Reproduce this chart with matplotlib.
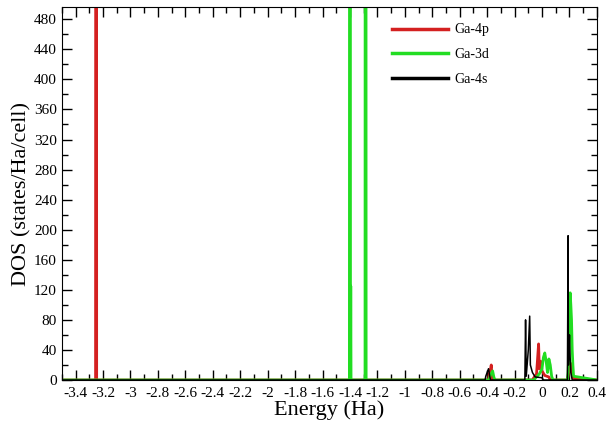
# DOS plot for Ga states
import matplotlib.pyplot as plt
from matplotlib.ticker import MultipleLocator

plt.rcParams['font.family'] = ['Liberation Serif', 'DejaVu Serif']

# Ga-4p
e_4p = [-3.5, -3.254, -3.25, -3.246, -0.39, -0.385, -0.375, -0.37, -0.365, -0.36,
        -0.07, -0.06, -0.04, -0.025, -0.02, -0.01, 0.0, 0.02, 0.05, 0.06,
        0.185, 0.19, 0.2, 0.205, 0.21, 0.22, 0.23, 0.4]
dos_4p = [0, 0, 3000, 0, 0, 8, 15, 20, 5, 0,
          0, 3, 8, 48, 15, 25, 12, 6, 4, 0,
          0, 5, 20, 12, 22, 8, 2, 0]

# Ga-3d
e_3d = [-3.5, -1.404, -1.40, -1.396, -1.394, -1.392, -1.29, -1.286, -1.282,
        -0.385, -0.38, -0.36, -0.35, -0.34,
        -0.06, -0.05, -0.02, 0.0, 0.01, 0.02, 0.03, 0.04, 0.05, 0.06, 0.07, 0.08,
        0.185, 0.19, 0.2, 0.205, 0.21, 0.215, 0.22, 0.225, 0.23, 0.4]
dos_3d = [0, 0, 3000, 0, 125, 0, 0, 3000, 0,
          0, 5, 12, 3, 0,
          0, 2, 8, 15, 30, 36, 25, 10, 28, 20, 5, 0,
          0, 10, 60, 116, 100, 80, 40, 20, 5, 0]

# Ga-4s
e_4s = [-3.5, -0.415, -0.41, -0.4, -0.39, -0.38, -0.375,
        -0.125, -0.12, -0.115, -0.1, -0.09, -0.085, -0.07, -0.05, 0.0, 0.01,
        0.185, 0.19, 0.192, 0.2, 0.205, 0.21, 0.22, 0.4]
dos_4s = [0, 0, 5, 10, 15, 4, 0,
          0, 80, 5, 40, 85, 20, 10, 4, 3, 0,
          0, 192, 20, 60, 30, 10, 0, 0]

fig, ax = plt.subplots(figsize=(6.06, 4.26), dpi=100)
fig.subplots_adjust(left=0.102, right=0.985, top=0.983, bottom=0.108)

ax.plot(e_4p, dos_4p, color='#d42020', lw=2.0, label='Ga-4p')
ax.plot(e_3d, dos_3d, color='#22dd22', lw=2.0, label='Ga-3d')
ax.plot(e_4s, dos_4s, color='black', lw=1.1, label='Ga-4s')

ax.set_xlim(-3.5, 0.4)
ax.set_ylim(0, 496)
ax.xaxis.set_minor_locator(MultipleLocator(0.1))
ax.yaxis.set_major_locator(MultipleLocator(40))
ax.yaxis.set_minor_locator(MultipleLocator(20))
ax.set_xticks([-3.4 + 0.2 * i for i in range(20)])
ax.set_xticklabels(['-3.4', '-3.2', '-3', '-2.8', '-2.6', '-2.4', '-2.2', '-2',
                    '-1.8', '-1.6', '-1.4', '-1.2', '-1', '-0.8', '-0.6', '-0.4',
                    '-0.2', '0', '0.2', '0.4'])
ax.tick_params(which='both', direction='in', top=True, right=True, labelsize=11)
ax.tick_params(which='major', length=7, width=1)
ax.tick_params(which='minor', length=4, width=1)
ax.tick_params(axis='x', pad=5)

ax.set_xlabel('Energy (Ha)', fontsize=16, labelpad=0)
ax.set_ylabel('DOS (states/Ha/cell)', fontsize=16, labelpad=2)

leg = ax.legend(loc='upper left', bbox_to_anchor=(0.594, 0.99), frameon=False,
                handlelength=4.0, labelspacing=0.85, fontsize=10, handletextpad=0.5)
for line in leg.get_lines():
    line.set_linewidth(2.5)

plt.savefig('out.png')
